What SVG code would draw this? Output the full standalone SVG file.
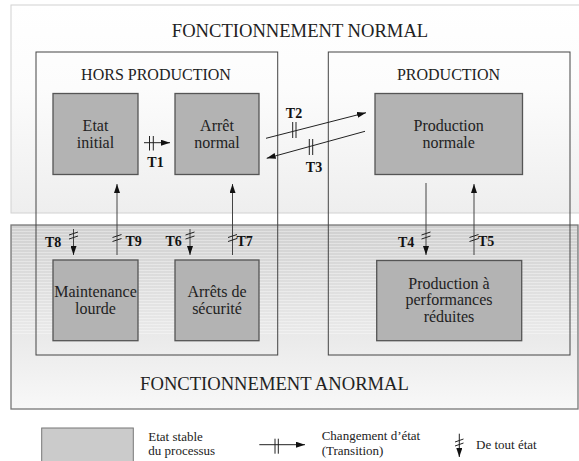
<svg xmlns="http://www.w3.org/2000/svg" width="579" height="461" viewBox="0 0 579 461" font-family="'Liberation Serif', 'Times New Roman', serif">
  <style>
    text { font-family: "Liberation Serif", "Times New Roman", serif; fill: #222; }
    .title { font-size: 18.6px; text-anchor: middle; }
    .group-title { font-size: 16px; text-anchor: middle; }
    .state-label { font-size: 16px; text-anchor: middle; }
    .tlabel { font-size: 14px; font-weight: bold; fill: #111; }
    .legend { font-size: 13px; }
    .state { fill: #b3b3b3; stroke: #555; stroke-width: 1.3; }
    .group { fill: none; stroke: #444; stroke-width: 1; }
    .link { stroke: #222; stroke-width: 1; fill: none; }
    .vlink { stroke: #444; stroke-width: 1; fill: none; }
    .tick { stroke: #222; stroke-width: 1; fill: none; }
  </style>
  <defs>
    <linearGradient id="normalFill" x1="0" y1="0" x2="0" y2="1">
      <stop offset="0" stop-color="#ffffff"/>
      <stop offset="0.4" stop-color="#fcfcfc"/>
      <stop offset="1" stop-color="#eeeeee"/>
    </linearGradient>
    <linearGradient id="abnormalFill" x1="0" y1="0" x2="0" y2="1">
      <stop offset="0" stop-color="#d0d0d0"/>
      <stop offset="0.5" stop-color="#e6e6e6"/>
      <stop offset="1" stop-color="#f8f8f8"/>
    </linearGradient>
    <pattern id="streaks" width="8" height="3" patternUnits="userSpaceOnUse">
      <rect x="0" y="0" width="8" height="1" fill="#ffffff" opacity="0.35"/>
    </pattern>
    <marker id="head" markerWidth="9" markerHeight="6" refX="9" refY="3" orient="auto" markerUnits="userSpaceOnUse">
      <path d="M0,0 L9,3 L0,6 z" fill="#111"/>
    </marker>
  </defs>

  <!-- background bands -->
  <rect x="11" y="5" width="580" height="208" fill="url(#normalFill)" stroke="#d2d2d2" stroke-width="1"/>
  <rect x="11" y="225" width="567" height="184" fill="url(#abnormalFill)" stroke="#777" stroke-width="1.3"/>
  <rect x="12" y="226" width="565" height="110" fill="url(#streaks)"/>

  <text class="title" x="300" y="37">FONCTIONNEMENT NORMAL</text>
  <text class="title" x="274.5" y="390">FONCTIONNEMENT ANORMAL</text>

  <!-- containers -->
  <g id="hors-production">
    <rect class="group" x="36" y="52" width="241.7" height="303"/>
    <text class="group-title" x="156" y="80">HORS PRODUCTION</text>
  </g>
  <g id="production">
    <rect class="group" x="328.3" y="52" width="241.7" height="303"/>
    <text class="group-title" x="448.5" y="80">PRODUCTION</text>
  </g>

  <!-- states -->
  <g id="etat-initial">
    <rect class="state" x="53" y="93.5" width="85" height="81"/>
    <text class="state-label" x="95.5" y="131">Etat</text>
    <text class="state-label" x="95.5" y="148">initial</text>
  </g>
  <g id="arret-normal">
    <rect class="state" x="175" y="93.5" width="84" height="81"/>
    <text class="state-label" x="217" y="131">Arrêt</text>
    <text class="state-label" x="217" y="148">normal</text>
  </g>
  <g id="production-normale">
    <rect class="state" x="375" y="93.5" width="147.5" height="81"/>
    <text class="state-label" x="448.7" y="131">Production</text>
    <text class="state-label" x="448.7" y="148">normale</text>
  </g>
  <g id="maintenance-lourde">
    <rect class="state" x="53" y="260" width="85" height="80.7"/>
    <text class="state-label" x="95.5" y="297">Maintenance</text>
    <text class="state-label" x="95.5" y="313.5">lourde</text>
  </g>
  <g id="arrets-securite">
    <rect class="state" x="175" y="260" width="84" height="80.7"/>
    <text class="state-label" x="217" y="297">Arrêts de</text>
    <text class="state-label" x="217" y="313.5">sécurité</text>
  </g>
  <g id="production-reduite">
    <rect class="state" x="376.7" y="260.5" width="145" height="80.2"/>
    <text class="state-label" x="449" y="288.5">Production à</text>
    <text class="state-label" x="449" y="305">performances</text>
    <text class="state-label" x="449" y="321.7">réduites</text>
  </g>

  <!-- transitions -->
  <g id="connectors">
    <!-- T1 -->
    <line class="link" x1="144" y1="142.7" x2="170" y2="142.7" marker-end="url(#head)"/>
    <line class="tick" x1="149.5" y1="136" x2="149.5" y2="150.5"/>
    <line class="tick" x1="153.3" y1="136" x2="153.3" y2="150.5"/>
    <text class="tlabel" x="155.5" y="166.7" text-anchor="middle">T1</text>

    <!-- T2 -->
    <line class="link" x1="266" y1="138.3" x2="366" y2="112.7" marker-end="url(#head)"/>
    <line class="tick" x1="292.7" y1="122" x2="292.7" y2="138"/>
    <line class="tick" x1="296" y1="122" x2="296" y2="138"/>
    <text class="tlabel" x="294" y="118.3" text-anchor="middle">T2</text>

    <!-- T3 -->
    <line class="link" x1="365" y1="131.3" x2="266.7" y2="158.3" marker-end="url(#head)"/>
    <line class="tick" x1="309.3" y1="139" x2="309.3" y2="155"/>
    <line class="tick" x1="312.7" y1="139" x2="312.7" y2="155"/>
    <text class="tlabel" x="314" y="171.7" text-anchor="middle">T3</text>

    <!-- T8 : any state to Maintenance lourde -->
    <line class="vlink" x1="73.5" y1="229" x2="73.5" y2="255" marker-end="url(#head)"/>
    <line class="tick" x1="69" y1="235" x2="78" y2="232"/>
    <line class="tick" x1="69" y1="239" x2="78" y2="236"/>
    <text class="tlabel" x="45" y="246.5">T8</text>

    <!-- T9 : Maintenance lourde to Etat initial -->
    <line class="vlink" x1="117" y1="255" x2="117" y2="184" marker-end="url(#head)"/>
    <line class="tick" x1="112.5" y1="237.5" x2="121.5" y2="234.5"/>
    <line class="tick" x1="112.5" y1="241.5" x2="121.5" y2="238.5"/>
    <text class="tlabel" x="125.5" y="246">T9</text>

    <!-- T6 : any state to Arrets de securite -->
    <line class="vlink" x1="190" y1="229" x2="190" y2="255" marker-end="url(#head)"/>
    <line class="tick" x1="185.5" y1="235" x2="194.5" y2="232"/>
    <line class="tick" x1="185.5" y1="239" x2="194.5" y2="236"/>
    <text class="tlabel" x="165.5" y="246">T6</text>

    <!-- T7 : Arrets de securite to Arret normal -->
    <line class="vlink" x1="232.5" y1="255" x2="232.5" y2="184" marker-end="url(#head)"/>
    <line class="tick" x1="228" y1="237.5" x2="237" y2="234.5"/>
    <line class="tick" x1="228" y1="241.5" x2="237" y2="238.5"/>
    <text class="tlabel" x="236.5" y="246">T7</text>

    <!-- T4 : Production normale to reduced performance -->
    <line class="vlink" x1="426" y1="183" x2="426" y2="255" marker-end="url(#head)"/>
    <line class="tick" x1="421.5" y1="235" x2="430.5" y2="232"/>
    <line class="tick" x1="421.5" y1="239" x2="430.5" y2="236"/>
    <text class="tlabel" x="398" y="246.5">T4</text>

    <!-- T5 : reduced performance back to Production normale -->
    <line class="vlink" x1="474" y1="255" x2="474" y2="184" marker-end="url(#head)"/>
    <line class="tick" x1="469.5" y1="237.5" x2="478.5" y2="234.5"/>
    <line class="tick" x1="469.5" y1="241.5" x2="478.5" y2="238.5"/>
    <text class="tlabel" x="478" y="246">T5</text>
  </g>

  <!-- legend -->
  <g id="legend">
    <rect x="41.7" y="428" width="91.6" height="40" fill="#cbcbcb" stroke="#777" stroke-width="1"/>
    <text class="legend" x="148.3" y="441">Etat stable</text>
    <text class="legend" x="148.3" y="455.3">du processus</text>

    <line class="link" x1="259.3" y1="444.7" x2="305" y2="444.7" marker-end="url(#head)"/>
    <line class="tick" x1="275" y1="438.7" x2="275" y2="453.7"/>
    <line class="tick" x1="278.3" y1="438.7" x2="278.3" y2="453.7"/>
    <text class="legend" x="321.7" y="439.7">Changement d’état</text>
    <text class="legend" x="321.7" y="454.7">(Transition)</text>

    <line class="link" x1="459.3" y1="433.7" x2="459.3" y2="457" marker-end="url(#head)"/>
    <line class="tick" x1="455" y1="442" x2="463.5" y2="439"/>
    <line class="tick" x1="455" y1="446" x2="463.5" y2="443"/>
    <text class="legend" x="476" y="448.7">De tout état</text>
  </g>
</svg>
